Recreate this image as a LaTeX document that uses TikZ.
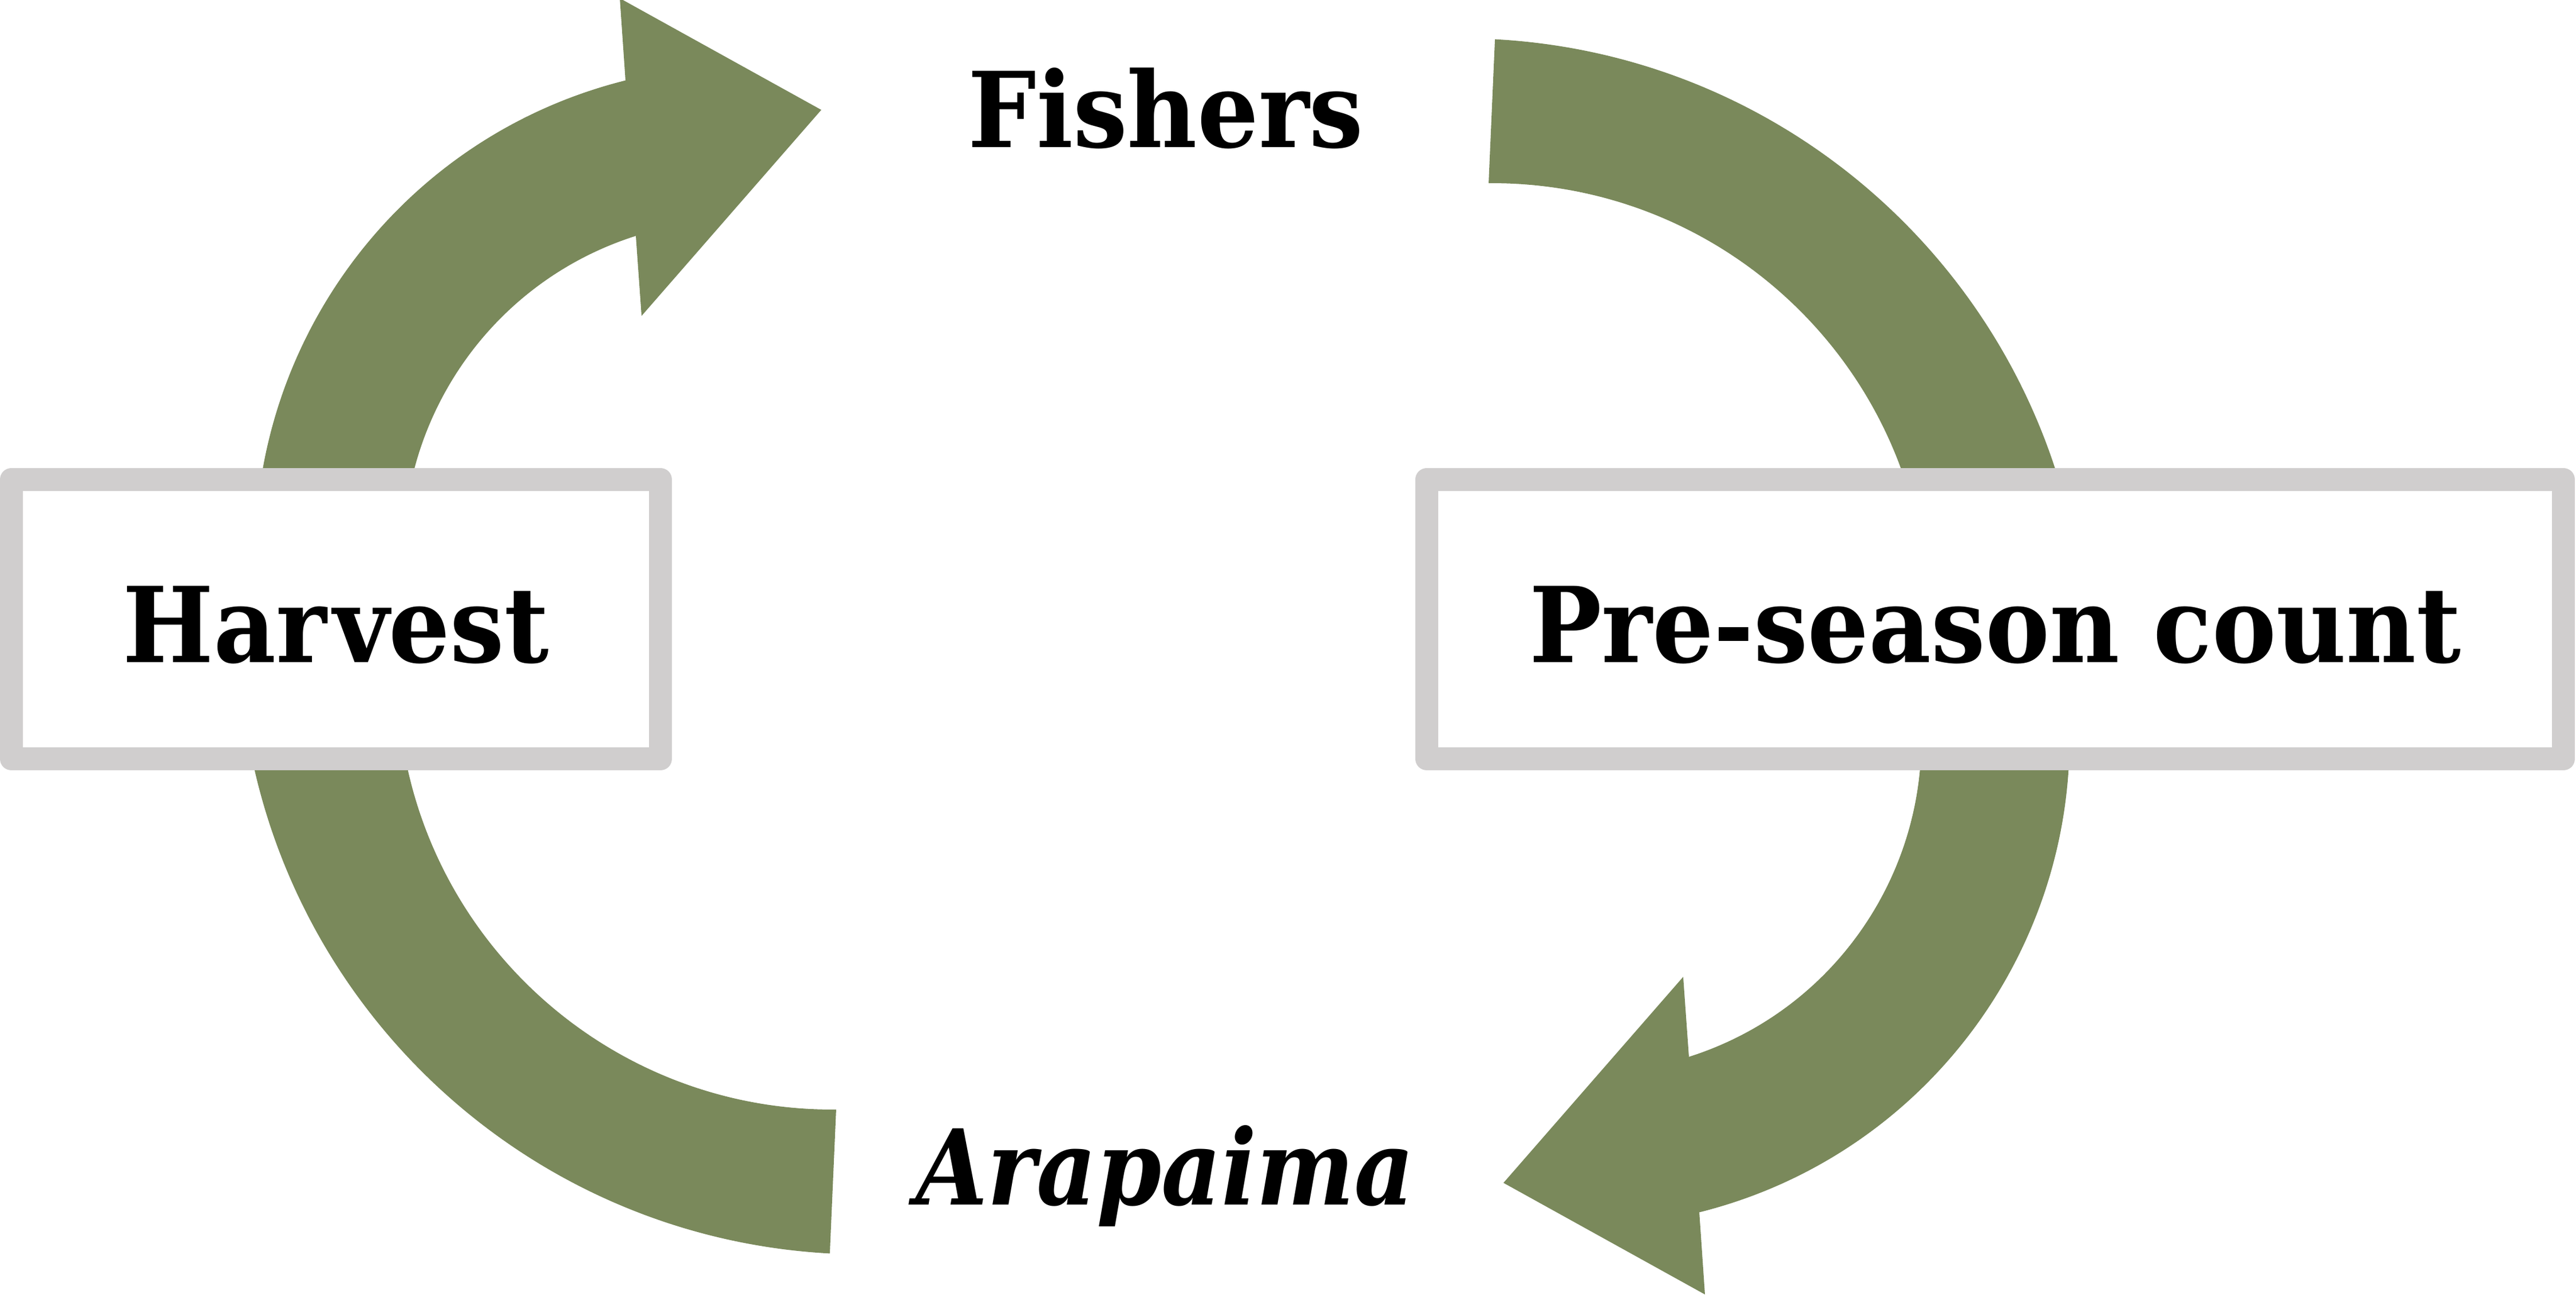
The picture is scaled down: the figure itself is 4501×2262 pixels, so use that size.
\documentclass[tikz,border=0pt]{standalone}
\usepackage{fontspec}
\newfontfamily\labelfont{DejaVu Serif}[FakeStretch=0.92]
\newfontfamily\italabelfont{DejaVu Serif}[FakeStretch=0.885]
\definecolor{arrowgreen}{RGB}{122,137,91}
\definecolor{boxgray}{RGB}{208,206,206}
\begin{document}
\begin{tikzpicture}[x=0.01cm,y=-0.01cm,
  cyclearrow/.style={fill=arrowgreen, draw=none},
  stagebox/.style={draw=boxgray, fill=white, line width=0.4cm, line join=round,
    inner sep=0pt, minimum height=4.88cm, text height=1.5cm, text depth=0pt,
    font=\labelfont\fontsize{52}{62}\selectfont\bfseries},
  steplabel/.style={inner sep=0pt, anchor=base, font=\labelfont\fontsize{52}{62}\selectfont\bfseries}]
\useasboundingbox (0,0) rectangle (4501,2262);
% right arrow: Fishers -> (behind Pre-season count) -> Arapaima
\fill[cyclearrow] (2612.1,68.6) arc[start angle=-86.9, end angle=-5, radius=1092]
  -- (3603.0,1141.7) arc[start angle=-10, end angle=75.96, radius=854]
  -- (2979,2262) -- (2627,2067) -- (2941,1707)
  -- (2951.0,1846.8) arc[start angle=72.4, end angle=-10, radius=582]
  -- (3365.1,1014.7) arc[start angle=-5, end angle=-90.45, radius=761]
  -- cycle;
% left arrow: Arapaima -> (behind Harvest) -> Fishers
\fill[cyclearrow] (1449.9,2190.4) arc[start angle=93.1, end angle=175, radius=1092]
  -- (459.0,1117.3) arc[start angle=170, end angle=255.96, radius=854]
  -- (1083,-3) -- (1435,192) -- (1121,552)
  -- (1111.0,412.2) arc[start angle=252.4, end angle=170, radius=582]
  -- (696.9,1244.3) arc[start angle=175, end angle=89.55, radius=761]
  -- cycle;
% boxes
\node[stagebox, minimum width=11.34cm] (harvest) at (587,1082) {Har\kern0.06em vest};
\node[stagebox, minimum width=19.85cm] (count) at (3486,1082) {Pre-season count};
% free labels
\node[steplabel] (fishers) at (2037,257) {Fishers};
\node[steplabel, font=\italabelfont\fontsize{52}{62}\selectfont\bfseries\itshape] (arapaima) at (2036,2105) {Arapaima};
\end{tikzpicture}
\end{document}
